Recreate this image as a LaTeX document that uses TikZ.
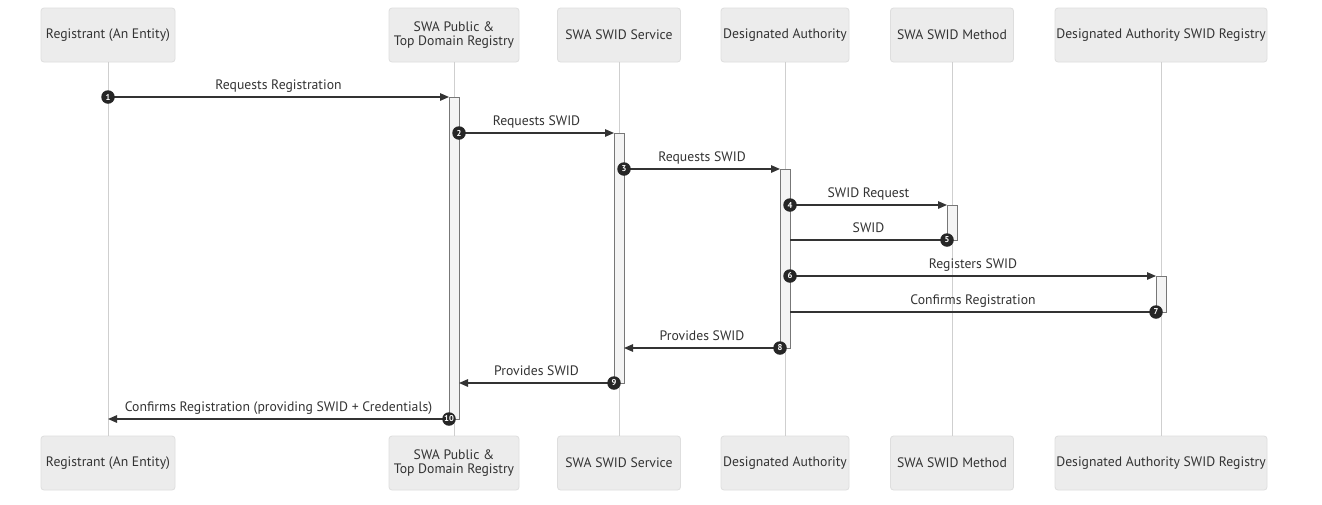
\documentclass[tikz,border=0pt]{standalone}
\usepackage{fontspec}
\setmainfont{PT Sans}
\usetikzlibrary{arrows.meta}
\definecolor{actfill}{HTML}{ECECEC}
\definecolor{actdraw}{HTML}{DEDEDE}
\definecolor{life}{HTML}{CFCFCF}
\definecolor{ink}{HTML}{333333}
\definecolor{numfill}{HTML}{262626}
\definecolor{barfill}{HTML}{F4F4F4}
\definecolor{bardraw}{HTML}{777777}
\begin{document}
\begin{tikzpicture}[x=1pt,y=-1pt,
  actor/.style={draw=actdraw, line width=0.8pt, fill=actfill, rounded corners=3pt,
    minimum height=54pt, align=center, text=ink, inner sep=0pt,
    font=\fontsize{13.7}{13.5}\selectfont},
  lifeline/.style={draw=life, line width=1pt},
  actbar/.style={draw=bardraw, fill=barfill, line width=0.8pt},
  msg/.style={draw=ink, line width=1.3pt},
  msgarrow/.style={msg, -{Triangle[length=9pt,width=7.5pt]}},
  lbl/.style={text=ink, inner sep=0pt, anchor=base, yshift=8pt,
    font=\fontsize{13.7}{14}\selectfont},
  num/.style={circle, fill=numfill, text=white, minimum size=13.5pt, inner sep=0pt,
    font=\fontsize{8.5}{8.5}\selectfont\bfseries}]
\useasboundingbox (0,0) rectangle (1322,504);
\fill[white] (0,0) rectangle (1322,504);
% actors top
\node[actor, minimum width=134pt] (a1t) at (108,35) {Registrant (An Entity)};
\node[actor, minimum width=130pt] (a2t) at (454,35) {SWA Public \&\\Top Domain Registry};
\node[actor, minimum width=123pt] (a3t) at (619,35) {SWA SWID Service};
\node[actor, minimum width=128pt] (a4t) at (785,35) {Designated Authority};
\node[actor, minimum width=123pt] (a5t) at (952,35) {SWA SWID Method};
\node[actor, minimum width=212pt] (a6t) at (1161,35) {Designated Authority SWID Registry};
% actors bottom
\node[actor, minimum width=134pt] (a1b) at (108,463) {Registrant (An Entity)};
\node[actor, minimum width=130pt] (a2b) at (454,463) {SWA Public \&\\Top Domain Registry};
\node[actor, minimum width=123pt] (a3b) at (619,463) {SWA SWID Service};
\node[actor, minimum width=128pt] (a4b) at (785,463) {Designated Authority};
\node[actor, minimum width=123pt] (a5b) at (952,463) {SWA SWID Method};
\node[actor, minimum width=212pt] (a6b) at (1161,463) {Designated Authority SWID Registry};
% lifelines
\foreach \i in {1,...,6} {\draw[lifeline] (a\i t.south) -- (a\i b.north);}
% activation bars
\draw[actbar] (449,97) rectangle (459,419);
\draw[actbar] (614,133) rectangle (624,383);
\draw[actbar] (780,169) rectangle (790,348);
\draw[actbar] (947,205) rectangle (957,240);
\draw[actbar] (1156,276) rectangle (1166,312);
% message end points
\coordinate (m1s) at (108,97);   \coordinate (m1e) at (449,97);
\coordinate (m2s) at (459,133);  \coordinate (m2e) at (614,133);
\coordinate (m3s) at (624,169);  \coordinate (m3e) at (780,169);
\coordinate (m4s) at (790,205);  \coordinate (m4e) at (947,205);
\coordinate (m5s) at (947,240);  \coordinate (m5e) at (790,240);
\coordinate (m6s) at (790,276);  \coordinate (m6e) at (1156,276);
\coordinate (m7s) at (1156,312); \coordinate (m7e) at (790,312);
\coordinate (m8s) at (780,348);  \coordinate (m8e) at (624,348);
\coordinate (m9s) at (614,383);  \coordinate (m9e) at (459,383);
\coordinate (m10s) at (449,419); \coordinate (m10e) at (108,419);
% messages
\draw[msgarrow] (m1s) -- node[lbl] {Requests Registration} (m1e);
\draw[msgarrow] (m2s) -- node[lbl] {Requests SWID} (m2e);
\draw[msgarrow] (m3s) -- node[lbl] {Requests SWID} (m3e);
\draw[msgarrow] (m4s) -- node[lbl] {SWID Request} (m4e);
\draw[msg] (m5s) -- node[lbl] {SWID} (m5e);
\draw[msgarrow] (m6s) -- node[lbl] {Registers SWID} (m6e);
\draw[msg] (m7s) -- node[lbl] {Confirms Registration} (m7e);
\draw[msgarrow] (m8s) -- node[lbl] {Provides SWID} (m8e);
\draw[msgarrow] (m9s) -- node[lbl] {Provides SWID} (m9e);
\draw[msgarrow] (m10s) -- node[lbl] {Confirms Registration (providing SWID + Credentials)} (m10e);
% sequence numbers
\foreach \i in {1,...,10} {\node[num] (n\i) at (m\i s) {\i};}
\end{tikzpicture}
\end{document}
